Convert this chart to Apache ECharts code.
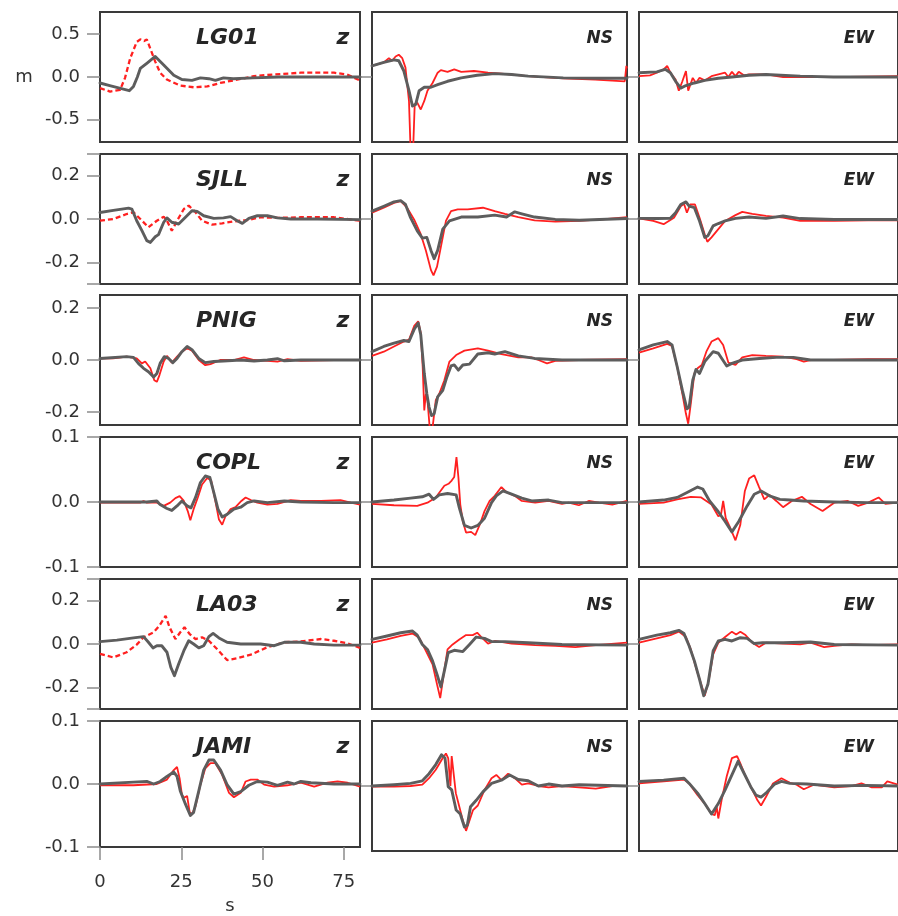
<!DOCTYPE html>
<html><head><meta charset="utf-8">
<script src="https://cdn.jsdelivr.net/npm/echarts@6/dist/echarts.min.js"></script>
<style>html,body{margin:0;padding:0;background:#fff}#c{width:898px;height:916px}</style>
</head><body><div id="c"></div>
<script>
// ---------- labels ----------
const stations = ['LG01','SJLL','PNIG','COPL','LA03','JAMI'];
const componentLabels = ['z','NS','EW'];
const dashedStations = ['LG01','SJLL','LA03'];
const xTickVals = [0,25,50,75];
const yLimits = [0.76, 0.3, 0.25, 0.1, 0.3, 0.1];
const yTickVals = [[-0.5,0,0.5],[-0.3,-0.2,0,0.2,0.3],[-0.2,0,0.2],[-0.1,0,0.1],[-0.3,-0.2,0,0.2,0.3],[-0.1,0,0.1]];
const yLabelVals = [[-0.5,0,0.5],[-0.2,0,0.2],[-0.2,0,0.2],[-0.1,0,0.1],[-0.2,0,0.2],[-0.1,0,0.1]];
const innerTickVals = [0];

// ---------- data: [time s, displacement m] ----------
const lg01_z_obs = [[0,-0.13],[3.1,-0.17],[6.2,-0.15],[7.7,-0.01],[9.3,0.22],[11.3,0.41],[12.4,0.44],[13.6,0.42],[14.4,0.44],[15.5,0.33],[17,0.18],[18.5,0.05],[20.6,-0.03],[24.7,-0.10],[28.8,-0.12],[33,-0.11],[37,-0.07],[41,-0.04],[47.4,0.01],[53.6,0.03],[61.8,0.05],[72,0.05],[76,0.03],[80,-0.04]];
const lg01_z_syn = [[0,-0.07],[3,-0.10],[6,-0.13],[9,-0.16],[10.3,-0.11],[11.5,0.0],[12.4,0.10],[14.4,0.16],[17,0.24],[19.6,0.14],[22.7,0.02],[25.2,-0.03],[28.3,-0.04],[30.9,-0.01],[33.5,-0.02],[35.5,-0.04],[38,-0.01],[41,-0.02],[47,-0.01],[55,0],[65,0],[80,0]];
const lg01_ns_obs = [[0,0.13],[3.7,0.17],[5.3,0.22],[6.3,0.19],[7.4,0.24],[8.4,0.26],[9.5,0.22],[10.5,0.11],[11.6,-0.28],[12.1,-0.85],[12.9,-0.85],[13.4,-0.32],[14.2,-0.30],[15.3,-0.38],[16.4,-0.28],[17.4,-0.16],[19,-0.07],[20.6,0.05],[21.6,0.08],[23.7,0.06],[25.8,0.09],[28,0.06],[32,0.07],[36.4,0.05],[40.6,0.04],[49,0.01],[60,-0.015],[70,-0.03],[79.3,-0.05],[79.8,0.13],[80,0.1]];
const lg01_ns_syn = [[0,0.13],[3.7,0.17],[6.9,0.20],[8.4,0.19],[10,0.07],[11.6,-0.16],[12.7,-0.34],[13.7,-0.32],[14.8,-0.16],[16.4,-0.12],[18.5,-0.12],[20.6,-0.09],[23.7,-0.05],[28,-0.01],[33,0.02],[38.5,0.04],[43.8,0.03],[49,0.01],[60,-0.01],[70,-0.015],[80,-0.015]];
const lg01_ew_obs = [[0,0.01],[3.4,0.02],[5.5,0.05],[7.6,0.09],[8.7,0.13],[9.7,0.05],[11.3,-0.03],[12.3,-0.16],[13.4,-0.05],[14.5,0.07],[15.2,-0.16],[16.6,-0.01],[17.6,-0.07],[18.7,-0.01],[20.3,-0.04],[22.4,0.01],[24.5,0.03],[26.6,0.05],[27.6,0],[28.7,0.06],[29.8,0.01],[30.8,0.06],[32.4,0.02],[34,0.03],[39.2,0.03],[44.5,0],[55,0],[65,0],[80,0.01]];
const lg01_ew_syn = [[0,0.05],[5.5,0.06],[8.1,0.09],[9.7,0.05],[11.3,-0.05],[12.9,-0.13],[14.5,-0.10],[17.1,-0.07],[20.3,-0.04],[24.5,-0.015],[28.7,0],[34,0.02],[39.2,0.03],[49.8,0.01],[60,0],[80,0]];

const sjll_z_obs = [[0,-0.008],[4.1,0],[8.2,0.023],[10.3,0.031],[12.4,0],[14.9,-0.038],[17.5,-0.008],[19.6,0.011],[20.6,-0.008],[22.1,-0.054],[23.7,-0.008],[25.8,0.046],[27.3,0.062],[29.4,0.031],[31.4,-0.008],[34.5,-0.026],[37.6,-0.02],[41.2,-0.011],[45.3,-0.005],[49.4,0.008],[54.6,0.005],[61.8,0.008],[72,0.008],[80,-0.008]];
const sjll_z_syn = [[0,0.03],[4.1,0.04],[8.8,0.05],[9.8,0.046],[11.3,-0.008],[12.9,-0.054],[14.4,-0.10],[15.5,-0.108],[17,-0.082],[18,-0.072],[19.6,-0.015],[20.6,0.005],[22.1,-0.015],[24.2,-0.023],[26.3,0.008],[28.3,0.038],[29.9,0.035],[31.9,0.015],[35,0.003],[38,0.005],[40.2,0.011],[42.2,-0.008],[43.8,-0.02],[45.8,0.003],[48.4,0.015],[51.5,0.015],[54.6,0.005],[58.7,0],[67,0],[80,-0.003]];
const sjll_ns_obs = [[0,0.029],[3.7,0.052],[6.9,0.074],[9,0.082],[11,0.052],[13.2,-0.002],[15.3,-0.07],[16.9,-0.145],[18.5,-0.236],[19.3,-0.26],[20.4,-0.22],[21.6,-0.13],[23.2,-0.009],[24.8,0.036],[26.9,0.044],[30,0.044],[34.8,0.052],[38.5,0.036],[41.7,0.024],[45.9,0.009],[51,-0.006],[57.5,-0.012],[65,-0.009],[72.3,-0.002],[80,0.009]];
const sjll_ns_syn = [[0,0.036],[3.7,0.059],[6.9,0.079],[9,0.085],[10.5,0.067],[12.1,0.006],[14.2,-0.055],[15.8,-0.088],[17.2,-0.085],[18.5,-0.145],[19.5,-0.183],[20.6,-0.145],[22.2,-0.047],[24.3,-0.009],[28,0.009],[33.2,0.009],[38.5,0.018],[42.2,0.009],[44.8,0.033],[47,0.024],[51,0.009],[57.5,-0.002],[65,-0.006],[80,0.002]];
const sjll_ew_obs = [[0,0.003],[4.4,-0.009],[7.6,-0.024],[10.8,0.006],[12.9,0.059],[13.9,0.07],[14.8,0.029],[15.8,0.067],[17.3,0.067],[18.7,0.006],[20.3,-0.07],[21.1,-0.105],[22.4,-0.085],[24.5,-0.047],[26.6,-0.009],[29.8,0.018],[31.9,0.033],[35,0.024],[39.2,0.014],[44.5,0.006],[49.8,-0.009],[60.3,-0.009],[70.8,-0.006],[80,-0.006]];
const sjll_ew_syn = [[0,0.003],[5.5,0.002],[9.7,0.003],[11.3,0.029],[12.9,0.067],[14.5,0.079],[15.5,0.059],[17.1,0.052],[18.7,-0.009],[20.3,-0.085],[21.3,-0.077],[22.9,-0.032],[24.5,-0.021],[26.6,-0.009],[29.8,0.003],[34,0.009],[39.2,0.003],[44.5,0.014],[49.8,0.002],[60.3,-0.002],[80,-0.002]];

const pnig_z_obs = [[0,0.006],[4.1,0.006],[8.2,0.013],[11.3,0.006],[12.9,-0.013],[13.9,-0.006],[15.5,-0.032],[16.7,-0.078],[17.5,-0.084],[18.3,-0.058],[19.6,-0.006],[20.6,0.016],[22.1,-0.01],[23.7,0.013],[25.2,0.032],[26.8,0.045],[28.3,0.036],[30.4,0],[32.4,-0.02],[34,-0.016],[37,0],[41.2,0],[44.3,0.01],[47.4,0],[51.5,-0.003],[54.6,-0.006],[57.7,0.003],[61.8,-0.003],[72,0],[80,0]];
const pnig_z_syn = [[0,0.006],[8.2,0.013],[10.3,0.01],[11.8,-0.013],[13.4,-0.032],[14.9,-0.045],[16.5,-0.065],[17.5,-0.052],[18.5,-0.013],[19.8,0.013],[21.1,0.006],[22.4,-0.01],[23.7,0.006],[25.2,0.032],[26.8,0.052],[28.3,0.04],[30.4,0.006],[32.4,-0.01],[35,-0.006],[38,-0.004],[43.3,0],[47.4,-0.004],[51.5,0],[54.6,0.005],[56.7,-0.003],[61.8,0],[80,0]];
const pnig_ns_obs = [[0,0.016],[3.7,0.032],[6.9,0.052],[10,0.071],[11.6,0.078],[13.2,0.13],[14.5,0.149],[15.3,0.104],[15.9,-0.026],[16.4,-0.194],[16.9,-0.13],[17.4,-0.155],[18.1,-0.26],[19,-0.26],[20,-0.155],[21.1,-0.13],[22.7,-0.078],[24.3,-0.006],[26.4,0.019],[29,0.036],[33.2,0.045],[36.4,0.036],[40.6,0.023],[45.9,0.01],[50,0.01],[52.2,0],[54.9,-0.013],[57.5,-0.003],[65,0],[80,0.003]];
const pnig_ns_syn = [[0,0.032],[3.7,0.052],[6.9,0.065],[10,0.075],[11.6,0.071],[13.2,0.117],[14.5,0.142],[15.3,0.097],[16.4,-0.052],[17.2,-0.13],[17.9,-0.181],[18.7,-0.214],[19.5,-0.207],[20.6,-0.142],[22.2,-0.117],[23.5,-0.065],[24.8,-0.023],[25.8,-0.019],[27.1,-0.039],[28.5,-0.019],[30.6,-0.016],[33.2,0.023],[36.4,0.028],[38.5,0.023],[41.7,0.032],[45.9,0.016],[51,0.006],[59.6,0],[80,0]];
const pnig_ew_obs = [[0,0.028],[4.4,0.045],[8.7,0.062],[10.2,0.054],[11.8,-0.026],[13.4,-0.13],[14.5,-0.207],[15.2,-0.245],[16,-0.168],[17.1,-0.052],[18.1,-0.032],[19.4,-0.019],[20.8,0.032],[22.4,0.071],[24.5,0.084],[26,0.058],[27.6,-0.01],[29.8,-0.019],[31.9,0.01],[35,0.019],[39.2,0.016],[44.5,0.013],[48.7,0.003],[50.9,-0.006],[53,0],[60,0],[70.8,0.003],[80,0.003]];
const pnig_ew_syn = [[0,0.039],[4.4,0.058],[8.7,0.071],[10.2,0.058],[11.8,-0.026],[13.4,-0.117],[14.8,-0.188],[15.5,-0.181],[16.6,-0.078],[17.6,-0.036],[18.7,-0.052],[20.3,-0.006],[22.9,0.032],[24.5,0.026],[27.1,-0.023],[28.7,-0.013],[31.9,0],[37.2,0.006],[42.4,0.01],[47.7,0.01],[53,0],[80,0]];

const copl_z_obs = [[0,-0.001],[12.4,-0.001],[13.4,0.0016],[14.4,-0.001],[17.5,-0.001],[19.6,-0.006],[21.6,-0.001],[23.2,0.006],[24.5,0.009],[25.8,0.0016],[27,-0.014],[27.8,-0.028],[28.8,-0.011],[30.1,0.007],[31.4,0.027],[33,0.037],[34.2,0.033],[35.5,0.0016],[36.6,-0.027],[37.6,-0.035],[38.6,-0.022],[40.2,-0.011],[41.7,-0.008],[43.5,0.0016],[44.8,0.007],[46.4,0.003],[48.4,-0.001],[51.5,-0.004],[54.6,-0.003],[58.7,0.003],[61.8,0.0016],[68,0.0016],[74,0.003],[77.2,-0.001],[80,-0.004]];
const copl_z_syn = [[0,0],[10.3,0],[14.4,0],[17.5,0.0016],[18.5,-0.004],[20.6,-0.01],[22.1,-0.013],[23.7,-0.006],[25.2,0.0016],[26.8,-0.006],[28,-0.009],[29.4,0.007],[30.9,0.030],[32.4,0.040],[33.8,0.038],[35,0.015],[36.3,-0.011],[37.6,-0.023],[39.1,-0.019],[41.2,-0.011],[43.3,-0.008],[45.3,-0.001],[47.4,0.0016],[51.5,-0.001],[56.7,0.0016],[61.8,0],[72,-0.001],[80,-0.001]];
const copl_ns_obs = [[0,-0.003],[6.9,-0.005],[14.2,-0.006],[17.4,-0.001],[20,0.007],[22.7,0.025],[24,0.028],[25,0.033],[25.8,0.0385],[26.5,0.069],[27.1,0.0385],[27.7,-0.004],[28.5,-0.03],[29.5,-0.047],[31.1,-0.046],[32.4,-0.051],[33.8,-0.035],[35.3,-0.014],[36.9,0.0016],[38.5,0.0095],[40.6,0.023],[42.2,0.015],[44.8,0.0095],[47,0.0016],[51.2,-0.001],[55.4,0.0016],[59.6,-0.003],[61.7,-0.001],[64.9,-0.005],[68,0.0016],[71.2,-0.001],[75.4,-0.004],[80,0.0016]];
const copl_ns_syn = [[0,0],[6.9,0.003],[12.1,0.006],[15.8,0.008],[17.9,0.012],[19.3,0.004],[21.1,0.011],[23.7,0.013],[26.4,0.011],[27.4,-0.009],[29,-0.036],[31.1,-0.04],[33.2,-0.036],[35.3,-0.025],[37.5,-0.001],[39,0.0095],[41.1,0.017],[43.8,0.012],[47,0.006],[50.1,0.0016],[55.4,0.003],[59.6,-0.001],[70,-0.001],[80,-0.001]];
const copl_ew_obs = [[0,-0.003],[7.6,-0.001],[11.8,0.004],[16,0.008],[19.2,0.007],[22.4,-0.004],[24.5,-0.022],[25.3,-0.02],[26,0.0016],[26.8,-0.025],[28.2,-0.04],[29.8,-0.059],[31.3,-0.035],[32.7,0.017],[34,0.036],[35.6,0.041],[37.1,0.023],[38.7,0.004],[40.3,0.011],[42.4,0.0016],[44.5,-0.008],[47.2,0.0016],[50.3,0.008],[53,-0.003],[56.7,-0.014],[60.3,-0.001],[64.5,0.0016],[67.7,-0.006],[70.8,-0.001],[74,0.007],[76.1,-0.003],[80,-0.001]];
const copl_ew_syn = [[0,0],[7.6,0.003],[11.8,0.007],[15,0.015],[18.1,0.023],[19.7,0.02],[21.8,0.0016],[24.5,-0.015],[26.6,-0.03],[28.7,-0.046],[30.8,-0.03],[33.4,-0.006],[35.6,0.012],[37.7,0.017],[40.3,0.0095],[43.5,0.004],[46.6,0.003],[50.9,0.0016],[60.3,0],[70.8,-0.001],[80,-0.001]];

const la03_z_obs = [[0,-0.046],[4.1,-0.062],[8.2,-0.038],[11.3,-0.003],[13.4,0.031],[16.5,0.054],[18.3,0.085],[20.2,0.13],[21.4,0.077],[23.2,0.023],[24.7,0.054],[26,0.077],[27.6,0.046],[29.4,0.023],[31.4,0.031],[33.5,0.015],[36,-0.023],[39.1,-0.074],[42.2,-0.066],[46.4,-0.049],[51.5,-0.015],[56.7,0.008],[61.8,0.012],[68,0.023],[72,0.015],[76.2,0.003],[80,-0.018]];
const la03_z_syn = [[0,0.011],[5.2,0.018],[10.3,0.028],[13.4,0.034],[14.9,0.008],[16.3,-0.018],[17.5,-0.008],[19,-0.008],[20.6,-0.038],[21.8,-0.108],[22.9,-0.146],[24.2,-0.092],[25.8,-0.031],[27.3,0.015],[28.8,0],[30.4,-0.018],[31.9,-0.008],[33.5,0.034],[34.8,0.049],[36.6,0.028],[39.1,0.008],[43.3,0],[49.4,0],[53.6,-0.008],[56.7,0.008],[61.8,0.008],[65.9,0],[72,-0.005],[80,-0.005]];
const la03_ns_obs = [[0,0.006],[4.7,0.021],[9,0.037],[12.7,0.048],[14.8,0.029],[16.9,-0.032],[19,-0.094],[20.4,-0.186],[21.4,-0.25],[22.5,-0.14],[23.7,-0.025],[25.3,-0.002],[27.4,0.021],[29.5,0.041],[31.6,0.041],[33,0.052],[34.3,0.032],[36.4,0.002],[38.5,0.014],[43.8,0.002],[51.2,-0.005],[57.5,-0.009],[63.8,-0.014],[70.2,-0.005],[80,0.006]];
const la03_ns_syn = [[0,0.021],[4.7,0.037],[9,0.052],[12.7,0.06],[14.2,0.041],[15.8,-0.002],[17.4,-0.025],[19,-0.078],[20.4,-0.14],[21.6,-0.198],[22.7,-0.124],[23.9,-0.04],[25.8,-0.029],[28.5,-0.035],[30.6,-0.002],[32.7,0.032],[35.3,0.026],[37.5,0.011],[41.7,0.011],[49,0.006],[59.6,-0.002],[80,-0.005]];
const la03_ew_obs = [[0,0.006],[5.5,0.026],[9.7,0.041],[12.3,0.057],[14.5,0.032],[16,-0.025],[17.6,-0.109],[19.2,-0.186],[20.3,-0.239],[21.5,-0.17],[22.9,-0.048],[24.5,0.006],[26.6,0.032],[28.7,0.057],[30,0.044],[31.3,0.057],[32.9,0.041],[35,0.006],[37.1,-0.014],[39.2,0.006],[44.5,0.002],[49.8,-0.002],[53,0.006],[57.2,-0.014],[60.3,-0.009],[65.6,-0.002],[70.8,-0.005],[80,-0.002]];
const la03_ew_syn = [[0,0.021],[5.5,0.041],[9.7,0.052],[12.3,0.063],[13.9,0.048],[15.5,-0.009],[17.1,-0.078],[18.7,-0.163],[20,-0.239],[21.3,-0.186],[22.9,-0.032],[24.5,0.014],[26.6,0.021],[28.7,0.014],[31.3,0.029],[33.4,0.026],[35.6,0.002],[38.2,0.006],[44.5,0.006],[53,0.009],[60.3,-0.002],[80,-0.005]];

const jami_z_obs = [[0,-0.002],[10.3,-0.002],[17.5,0],[20.6,0.007],[22.7,0.022],[23.7,0.027],[24.5,0.009],[25.2,-0.017],[25.9,-0.022],[26.8,-0.019],[27.6,-0.045],[28.3,-0.048],[29.4,-0.035],[30.9,-0.001],[32.4,0.025],[34,0.033],[35.5,0.033],[37.6,0.0145],[39.7,-0.014],[41.2,-0.021],[43.3,-0.014],[44.8,0.004],[46.4,0.007],[48.4,0.007],[50.5,-0.001],[53.6,-0.004],[57.7,-0.002],[61.8,0.002],[65.9,-0.004],[70,0.002],[73.1,0.004],[76.2,0.002],[80,-0.004]];
const jami_z_syn = [[0,0],[10.3,0.003],[14.4,0.004],[16.5,0],[18.5,0.004],[20.6,0.012],[22.7,0.019],[23.7,0.012],[24.7,-0.011],[26.3,-0.032],[27.8,-0.05],[28.8,-0.045],[30.4,-0.011],[31.9,0.022],[33.5,0.038],[35,0.038],[37.1,0.022],[39.1,-0.001],[41.2,-0.016],[43.3,-0.012],[45.8,-0.002],[48.4,0.004],[51.5,0.003],[54.6,-0.002],[57.7,0.003],[59.7,0],[61.8,0.004],[64.9,0.002],[72,0],[80,0]];
const jami_ns_obs = [[0,-0.001],[6.9,-0.001],[12.1,0],[15.8,0.002],[17.9,0.012],[20,0.025],[22.2,0.043],[23.2,0.05],[23.9,0.043],[24.6,0],[25,0.046],[25.6,0.045],[26.3,-0.011],[27.4,-0.032],[28.5,-0.053],[29.5,-0.069],[30.6,-0.053],[31.7,-0.037],[33.2,-0.03],[35.3,-0.006],[37.5,0.012],[39,0.017],[40.6,0.009],[42.7,0.019],[44.8,0.012],[47,0.002],[49,0.004],[52.2,0],[55.4,-0.002],[59.6,0],[64.9,-0.002],[70.2,-0.004],[75.4,0],[80,0]];
const jami_ns_syn = [[0,0],[6.9,0.002],[12.1,0.004],[15.8,0.008],[17.9,0.019],[20,0.033],[21.8,0.048],[22.9,0.043],[23.9,-0.001],[25,-0.006],[26.4,-0.037],[27.7,-0.043],[29,-0.063],[29.9,-0.06],[30.9,-0.032],[32.7,-0.022],[34.8,-0.009],[37.5,0.004],[40.6,0.009],[43.2,0.017],[45.9,0.010],[49,0.008],[52.2,0],[55.4,0.003],[59.6,0],[65,0.002],[80,0]];
const jami_ew_obs = [[0,0.004],[7.6,0.007],[13.9,0.010],[15.5,0.004],[18.1,-0.014],[20.3,-0.027],[22.4,-0.043],[23.4,-0.045],[24,-0.032],[24.5,-0.05],[25.5,-0.022],[27.1,0.015],[28.7,0.043],[30.3,0.046],[31.3,0.035],[32.9,0.015],[35,-0.006],[36.6,-0.022],[37.7,-0.03],[39.2,-0.017],[41.4,0.004],[44,0.012],[46.6,0.005],[48.7,0.002],[50.9,-0.005],[54,0.002],[60.3,-0.002],[65.6,0],[68.7,0.004],[71.9,-0.002],[75,-0.002],[76.7,0.007],[80,0.002]];
const jami_ew_syn = [[0,0.007],[7.6,0.009],[13.9,0.012],[15.5,0.004],[18.1,-0.011],[20.3,-0.027],[22.4,-0.043],[24.5,-0.027],[26.6,-0.006],[28.7,0.017],[30.6,0.038],[32.4,0.02],[34.5,-0.001],[36.1,-0.014],[37.7,-0.017],[39.2,-0.011],[41.9,0.003],[44,0.007],[46.6,0.004],[51.9,0.003],[60.3,0],[70,0.001],[80,0]];

// tables built from the arrays above
const observed = [
  [lg01_z_obs, lg01_ns_obs, lg01_ew_obs],
  [sjll_z_obs, sjll_ns_obs, sjll_ew_obs],
  [pnig_z_obs, pnig_ns_obs, pnig_ew_obs],
  [copl_z_obs, copl_ns_obs, copl_ew_obs],
  [la03_z_obs, la03_ns_obs, la03_ew_obs],
  [jami_z_obs, jami_ns_obs, jami_ew_obs]
];
const synthetic = [
  [lg01_z_syn, lg01_ns_syn, lg01_ew_syn],
  [sjll_z_syn, sjll_ns_syn, sjll_ew_syn],
  [pnig_z_syn, pnig_ns_syn, pnig_ew_syn],
  [copl_z_syn, copl_ns_syn, copl_ew_syn],
  [la03_z_syn, la03_ns_syn, la03_ew_syn],
  [jami_z_syn, jami_ns_syn, jami_ew_syn]
];

// ---------- layout ----------
const rowTop = [12, 154, 295, 437, 579, 721];
const rowH = 130;
const colLeft = [100, 372, 639];
const colW = [260, 255, 268];
const FONT = '"DejaVu Sans", sans-serif';
const txt = '#333333';

const grids = [], xAxes = [], yAxes = [], series = [], graphics = [];
for (let i = 0; i < 6; i++) {
  for (let j = 0; j < 3; j++) {
    const k = i * 3 + j;
    grids.push({left: colLeft[j], top: rowTop[i], width: colW[j], height: rowH,
      show: true, borderColor: '#3a3a3a', borderWidth: 2, backgroundColor: 'transparent'});
    const bl = (i === 5 && j === 0);
    xAxes.push({gridIndex: k, type: 'value', position: 'bottom', min: 0, max: 80,
      axisLine: {show: false, onZero: false}, splitLine: {show: false},
      axisTick: {show: bl, customValues: xTickVals, length: 13, lineStyle: {color: '#8c8c8c', width: 1.5}},
      axisLabel: {show: bl, customValues: xTickVals, margin: 35, verticalAlign: 'middle', fontSize: 18, fontFamily: FONT, color: txt},
      name: bl ? 's' : '', nameLocation: 'middle', nameGap: 59,
      nameTextStyle: {fontSize: 18, fontFamily: FONT, color: txt, verticalAlign: 'middle'}});
    const lm = (j === 0);
    yAxes.push({gridIndex: k, type: 'value', position: 'left', min: -yLimits[i], max: yLimits[i],
      axisLine: {show: false, onZero: false}, splitLine: {show: false},
      axisTick: {show: true, customValues: lm ? yTickVals[i] : innerTickVals, length: lm ? 13 : 11, lineStyle: {color: '#8c8c8c', width: 1.5}},
      axisLabel: {show: lm, customValues: yLabelVals[i], margin: 20, fontSize: 18, fontFamily: FONT, color: txt,
        formatter: v => (Math.abs(v) < 1e-9 ? '0.0' : v.toFixed(1))},
      name: (i === 0 && j === 0) ? 'm' : '', nameLocation: 'middle', nameRotate: 0, nameGap: 76,
      nameTextStyle: {fontSize: 18, fontFamily: FONT, color: txt, align: 'center', verticalAlign: 'middle'}});
    const dashed = (j === 0 && dashedStations.includes(stations[i]));
    series.push({type: 'line', xAxisIndex: k, yAxisIndex: k, data: observed[i][j],
      showSymbol: false, symbol: 'none', z: 2, clip: true,
      lineStyle: {color: '#ff2020', width: dashed ? 2.3 : 1.8, type: dashed ? [5, 3] : 'solid'}});
    series.push({type: 'line', xAxisIndex: k, yAxisIndex: k, data: synthetic[i][j],
      showSymbol: false, symbol: 'none', z: 3, clip: true,
      lineStyle: {color: '#5d5d5d', width: 2.9, join: 'round', cap: 'round'}});
  }
  const cy = rowTop[i] + 26;
  graphics.push({type: 'text', x: 196, y: cy, style: {text: stations[i], font: 'italic bold 22px ' + FONT, fill: '#262626', align: 'left', verticalAlign: 'middle'}});
  graphics.push({type: 'text', x: 343, y: cy, style: {text: componentLabels[0], font: 'italic bold 22px ' + FONT, fill: '#262626', align: 'center', verticalAlign: 'middle'}});
  graphics.push({type: 'text', x: 613, y: cy + 1, style: {text: componentLabels[1], font: 'italic bold 17px ' + FONT, fill: '#262626', align: 'right', verticalAlign: 'middle'}});
  graphics.push({type: 'text', x: 874, y: cy + 1, style: {text: componentLabels[2], font: 'italic bold 17px ' + FONT, fill: '#262626', align: 'right', verticalAlign: 'middle'}});
}

const chart = echarts.init(document.getElementById('c'), null, {renderer: 'canvas'});
chart.setOption({
  animation: false,
  backgroundColor: '#ffffff',
  grid: grids, xAxis: xAxes, yAxis: yAxes, series: series,
  graphic: graphics
});
</script>
</body></html>
